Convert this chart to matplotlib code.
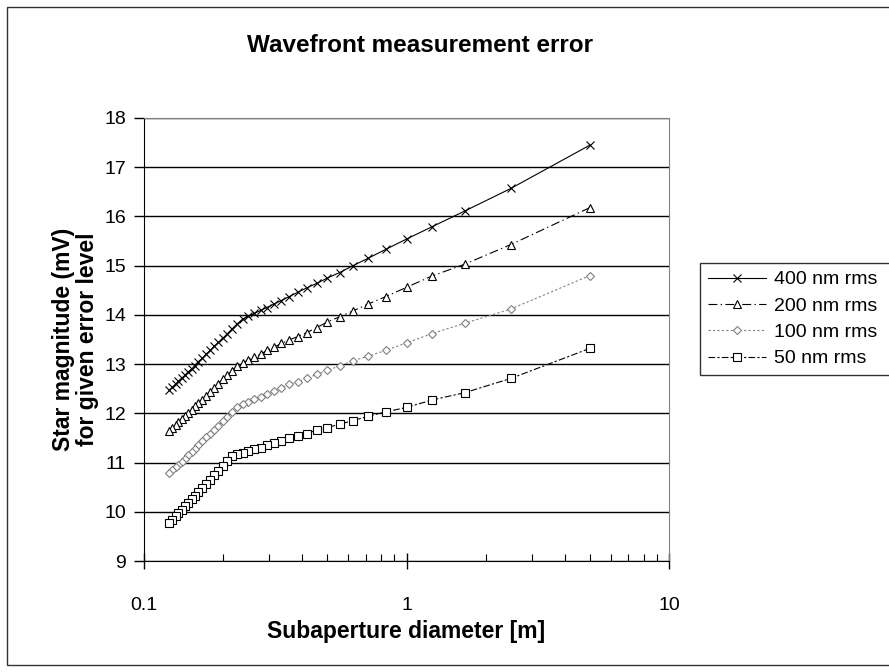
import matplotlib
matplotlib.use("Agg")
import matplotlib.pyplot as plt
from matplotlib.patches import Rectangle
from matplotlib.ticker import LogLocator, NullFormatter, FixedLocator, FixedFormatter

plt.rcParams['font.family'] = ['Liberation Sans', 'DejaVu Sans']

# subaperture diameter [m]
diameter = [5.0, 2.5, 1.667, 1.25, 1.0, 0.833, 0.714, 0.625, 0.556, 0.5,
            0.455, 0.417, 0.385, 0.357, 0.333, 0.3125, 0.294, 0.278, 0.263, 0.25,
            0.238, 0.227, 0.217, 0.208, 0.2, 0.192, 0.185, 0.179, 0.172, 0.167,
            0.161, 0.156, 0.152, 0.147, 0.143, 0.139, 0.135, 0.132, 0.128, 0.125]

mag_400 = [17.45, 16.57, 16.11, 15.79, 15.54, 15.33, 15.15, 15.00, 14.86, 14.75,
           14.64, 14.55, 14.46, 14.37, 14.29, 14.22, 14.15, 14.09, 14.03, 13.97,
           13.92, 13.82, 13.72, 13.62, 13.53, 13.44, 13.36, 13.28, 13.20, 13.12,
           13.05, 12.97, 12.90, 12.84, 12.77, 12.71, 12.65, 12.59, 12.53, 12.47]
mag_200 = [16.18, 15.43, 15.03, 14.79, 14.56, 14.37, 14.22, 14.08, 13.96, 13.86,
           13.74, 13.64, 13.56, 13.49, 13.42, 13.34, 13.28, 13.20, 13.14, 13.08,
           13.03, 12.97, 12.87, 12.78, 12.69, 12.60, 12.52, 12.44, 12.36, 12.28,
           12.21, 12.14, 12.07, 12.01, 11.94, 11.88, 11.82, 11.76, 11.71, 11.65]
mag_100 = [14.80, 14.12, 13.83, 13.62, 13.43, 13.28, 13.16, 13.07, 12.96, 12.88,
           12.79, 12.71, 12.64, 12.59, 12.52, 12.46, 12.40, 12.34, 12.29, 12.24,
           12.19, 12.13, 12.03, 11.93, 11.84, 11.75, 11.67, 11.59, 11.51, 11.43,
           11.36, 11.28, 11.21, 11.15, 11.08, 11.02, 10.96, 10.90, 10.84, 10.78]
mag_50 = [13.32, 12.71, 12.42, 12.27, 12.12, 12.03, 11.94, 11.85, 11.78, 11.71,
          11.66, 11.59, 11.54, 11.50, 11.44, 11.40, 11.35, 11.30, 11.27, 11.23,
          11.20, 11.17, 11.13, 11.03, 10.93, 10.83, 10.74, 10.65, 10.57, 10.48,
          10.40, 10.32, 10.25, 10.18, 10.11, 10.04, 9.97, 9.91, 9.84, 9.78]

x_ticks = [0.1, 1, 10]
x_ticklabels = ["0.1", "1", "10"]
y_ticks = list(range(9, 19))

W, H = 889, 672
fig = plt.figure(figsize=(W / 100, H / 100), dpi=100)
ax = fig.add_axes([144 / W, 1 - 561 / H, (669 - 144) / W, (561 - 118) / H])

series = [
    (mag_400, "400 nm rms", dict(color="black", ls="-", marker="x", ms=5.5, mew=0.8)),
    (mag_200, "200 nm rms", dict(color="black", ls=(0, (8, 3, 1.2, 3)), marker="^", ms=6,
                                 mfc="white", mew=0.8)),
    (mag_100, "100 nm rms", dict(color="#808080", ls=(0, (2, 2)), marker="D", ms=4.5,
                                 mfc="white", mew=0.8)),
    (mag_50, "50 nm rms", dict(color="black", ls=(0, (6, 2, 2, 2)), marker="s", ms=5.5,
                               mfc="white", mew=0.8)),
]
for vals, label, style in series:
    ax.plot(diameter, vals, lw=0.8, label=label, **style)

ax.set_xscale("log")
ax.set_xlim(0.1, 10)
ax.set_ylim(9, 18)
ax.xaxis.set_major_locator(FixedLocator(x_ticks))
ax.xaxis.set_major_formatter(FixedFormatter(x_ticklabels))
ax.xaxis.set_minor_locator(LogLocator(base=10, subs=range(2, 10)))
ax.xaxis.set_minor_formatter(NullFormatter())
ax.set_yticks(y_ticks)

ax.yaxis.grid(True, color="black", lw=1.0)
ax.set_axisbelow(True)
ax.tick_params(axis="y", direction="out", length=7, width=1, labelsize=14, pad=6)
ax.tick_params(axis="x", which="major", direction="inout", length=12, width=1,
               labelsize=14, pad=20)
ax.tick_params(axis="x", which="minor", direction="in", length=5, width=0.8)

for side in ("top", "right"):
    ax.spines[side].set_color("#808080")
for side in ("left", "bottom"):
    ax.spines[side].set_color("black")

ax.set_xlabel("Subaperture diameter [m]", fontsize=16.5, fontweight="bold", labelpad=4)
ax.set_ylabel("Star magnitude (mV)\nfor given error level", fontsize=16.5,
              fontweight="bold", labelpad=4, linespacing=1.05)

fig.text(420 / W, 1 - 45 / H, "Wavefront measurement error", fontsize=17.5,
         fontweight="bold", ha="center", va="center")

# legend box runs past the right edge of the chart, as in the original
leg = fig.legend(loc="upper left", bbox_to_anchor=(700 / W, 1 - 263 / H - 0.3, 220 / W, 0.3),
                 mode="expand", fontsize=14, frameon=True, fancybox=False,
                 handlelength=3.0, borderpad=0.4, labelspacing=0.45,
                 handletextpad=0.4, borderaxespad=0)
leg.get_frame().set_edgecolor("black")
leg.get_frame().set_linewidth(1.0)

fig.patches.append(Rectangle((7 / W, 7 / H), 2, 1 - 14 / H, transform=fig.transFigure,
                             fill=False, edgecolor="#333333", lw=1.0))

fig.savefig("out.png", dpi=100)
